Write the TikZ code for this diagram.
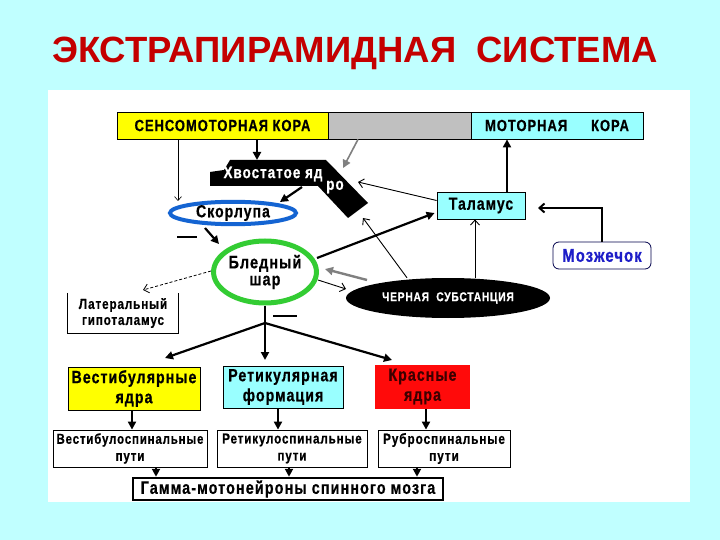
\documentclass[tikz,border=0pt]{standalone}
\usepackage{fontspec}
\setmainfont{Liberation Sans}
\newfontfamily\cf{Liberation Sans}[FakeStretch=0.8,LetterSpace=6,FakeBold=0.6]
\usetikzlibrary{arrows.meta,shapes.geometric,calc}
\definecolor{bgc}{RGB}{192,255,255}
\definecolor{titlered}{RGB}{196,0,0}
\definecolor{yel}{RGB}{255,255,0}
\definecolor{cy}{RGB}{153,255,255}
\definecolor{gr}{RGB}{192,192,192}
\definecolor{grn}{RGB}{51,204,51}
\definecolor{blu}{RGB}{20,100,210}
\definecolor{mzb}{RGB}{30,30,200}
\definecolor{rd}{RGB}{255,10,10}
\newcommand\fsz[1]{\cf\bfseries\fontsize{#1}{#1}\selectfont}
\tikzset{
 lbl/.style={font=\cf\bfseries, inner sep=0pt, align=center},
 box/.style={draw=black, line width=0.8pt, lbl},
 thk/.style={line width=2.2pt, -{Triangle[length=8pt,width=8pt]}},
 thn/.style={line width=0.9pt, -{Straight Barb[length=5pt,width=9pt]}},
 grarr/.style={draw=gray, line width=1.6pt, -{Triangle[length=8pt,width=8pt]}},
 dsh/.style={line width=0.8pt, dashed, dash pattern=on 3pt off 2pt, -{Straight Barb[length=5pt,width=9pt]}},
 minusbar/.style={line width=2pt}
}
\begin{document}
\begin{tikzpicture}[x=1pt,y=-1pt]
\useasboundingbox (0,0) rectangle (720,540);
\fill[bgc] (0,0) rectangle (720,540);
\fill[white] (48,90) rectangle (690,502);

% title
\node[anchor=base west, font=\fontsize{36.5}{40}\selectfont\bfseries, text=titlered, inner sep=0pt] (title) at (52,63) {ЭКСТРАПИРАМИДНАЯ\ \ СИСТЕМА};

% top bar
\node[box, fill=yel, minimum width=211pt, minimum height=27pt, font=\fsz{16.2}] (smk) at (222.5,125.5) {СЕНСОМОТОРНАЯ КОРА};
\node[box, fill=gr, minimum width=143pt, minimum height=27pt] (gray) at (399.5,125.5) {};
\node[box, fill=cy, minimum width=172pt, minimum height=27pt, font=\fsz{16.2}] (mk) at (557,125.5) {МОТОРНАЯ\hspace{24pt}КОРА};

% caudate nucleus
\fill[black] (210,172) -- (224,170) -- (230,160) -- (326,160) -- (368,203) -- (348,218) -- (318,186) -- (210,186) -- cycle;
\node[lbl, text=white, font=\fsz{16.8}] (cd) at (273,174) {Хвостатое яд};
\node[lbl, text=white, font=\fsz{16.8}] (cdro) at (335,187) {ро};
\coordinate (cdTop) at (257,160);
\coordinate (cdGray) at (343,168);
\coordinate (cdOut) at (302,187);
\coordinate (cdThal) at (358,182);
\coordinate (cdSn) at (363,218);

% putamen
\node[ellipse, draw=blu, line width=4pt, minimum width=126pt, minimum height=20pt, inner sep=0pt, font=\fsz{17.5}] (put) at (233,213) {Скорлупа};

% globus pallidus
\node[ellipse, draw=grn, line width=5pt, minimum width=101pt, minimum height=62pt, inner sep=0pt, align=center, font=\cf\bfseries\fontsize{18}{17}\selectfont] (bs) at (265,272) {Бледный\\шар};

% thalamus
\node[box, fill=cy, minimum width=88pt, minimum height=27pt, font=\fsz{17.5}] (thal) at (481,205.5) {Таламус};

% cerebellum
\node[draw=black!70!blue, line width=0.8pt, rounded corners=6pt, fill=white, minimum width=98pt, minimum height=27pt, lbl, text=mzb, font=\fsz{18.5}] (mz) at (602,255.5) {Мозжечок};

% substantia nigra
\node[ellipse, fill=black, minimum width=204pt, minimum height=40pt, inner sep=0pt, text=white, font=\fsz{12.8}] (sn) at (448,298) {ЧЕРНАЯ\ \ СУБСТАНЦИЯ};

% lateral hypothalamus
\node[lbl, minimum width=110pt, minimum height=40pt, font=\cf\bfseries\fontsize{14.6}{16}\selectfont] (lh) at (123,313) {Латеральный\\гипоталамус};
\draw[line width=0.8pt] (lh.north west) -- (lh.south west) -- (lh.south east) -- (lh.north east);

% nuclei row
\node[box, fill=yel, minimum width=132pt, minimum height=43pt, font=\cf\bfseries\fontsize{17.7}{20}\selectfont] (vest) at (134,388.5) {Вестибулярные\\ядра};
\node[box, fill=cy, minimum width=120pt, minimum height=42pt, font=\cf\bfseries\fontsize{17.7}{20}\selectfont] (ret) at (283,387) {Ретикулярная\\формация};
\node[lbl, fill=rd, minimum width=95pt, minimum height=44pt, text={rgb,255:red,60;green,0;blue,0}, font=\cf\bfseries\fontsize{17.7}{20}\selectfont] (red) at (422.5,386.5) {Красные\\ядра};

% pathways row
\node[box, fill=white, minimum width=154pt, minimum height=37pt, font=\cf\bfseries\fontsize{14.3}{17}\selectfont] (vp) at (130,448.5) {Вестибулоспинальные\\пути};
\node[box, fill=white, minimum width=150pt, minimum height=37pt, font=\cf\bfseries\fontsize{14.5}{17}\selectfont] (rp) at (292,448.5) {Ретикулоспинальные\\пути};
\node[box, fill=white, minimum width=132pt, minimum height=37pt, font=\cf\bfseries\fontsize{14.8}{17}\selectfont] (rbp) at (444,448.5) {Руброспинальные\\пути};

% gamma motoneurons
\node[draw=black, line width=2.5pt, fill=white, minimum width=310pt, minimum height=22pt, lbl, font=\fsz{18}] (gm) at (288,489) {Гамма-мотонейроны спинного мозга};

% ---- connectors ----
\draw[thk] (smk.south -| cdTop) -- (cdTop);
\draw[grarr] (gray.south -| 358,0) -- (cdGray);
\coordinate (putIn) at (178,201);
\draw[line width=0.6pt, -{Straight Barb[length=4pt,width=7pt]}] (smk.south -| putIn) -- (putIn);
\draw[thk] (cdOut) -- (280,202);
\draw[thn] ([yshift=5pt]thal.west) -- (cdThal);
\draw[thn] (sn.north -| 407,0) -- (cdSn);
\coordinate (bsR) at (317,258);
\draw[thk] (bsR) -- ([shift={(-2pt,-7.5pt)}]thal.west);
\coordinate (snL) at (367,280);
\draw[grarr, line width=2.4pt] (snL) -- (325,269);
\coordinate (bsR2) at (318,280);
\draw[thn] (bsR2) -- (346,289);
\draw[thn] (sn.north -| 475,0) -- (thal.south -| 475,0);
\coordinate (mzT) at (538,208);
\draw[line width=2pt, -{Straight Barb[length=5pt,width=9pt]}] (mz.north) |- (mzT);
\draw[thk] ([xshift=26pt]thal.north) -- ([xshift=26pt]thal.north |- mk.south);
\coordinate (bsL) at (211,271);
\coordinate (lhT) at (143,290);
\draw[dsh] (bsL) -- (lhT);
% minus marks
\draw[minusbar] (177,237) -- (197,237);
\draw[minusbar] (273,316) -- (297,316);
\draw[thk] (205,228) -- (219,244);
% branching from globus pallidus
\coordinate (br) at (265,323);
\draw[line width=2.2pt] (bs.south) -- (br);
\draw[thk] (br) -- (165,358);
\draw[thk] (br) -- (265,360);
\draw[thk] (br) -- (392,360);
% nuclei to pathways
\draw[thk] (vest.south -| 132,0) -- (vp.north -| 132,0);
\draw[thk] (ret.south -| 278,0) -- (rp.north -| 278,0);
\draw[thk] (red.south -| 426,0) -- (rbp.north -| 426,0);
% pathways to gamma
\draw[thk] (vp.south -| 156,0) -- (gm.north -| 156,0);
\draw[thk] (rp.south -| 289,0) -- (gm.north -| 289,0);
\draw[thk] (rbp.south -| 417,0) -- (gm.north -| 417,0);
\end{tikzpicture}
\end{document}
